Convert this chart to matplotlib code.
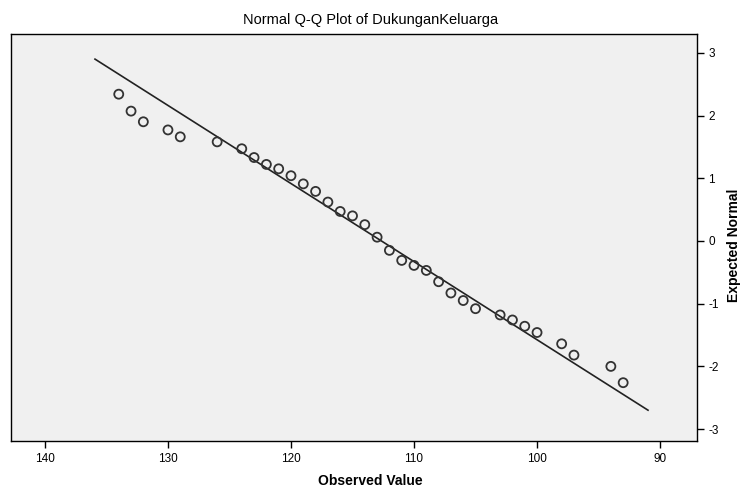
import matplotlib.pyplot as plt
import numpy as np

observed = [134, 133, 132, 130, 129, 126, 124, 123, 122, 121, 120, 119, 118,
            117, 116, 115, 114, 113, 112, 111, 110, 109, 108, 107, 106, 105,
            103, 102, 101, 100, 98, 97, 94, 93]
expected = [2.34, 2.07, 1.90, 1.77, 1.66, 1.58, 1.47, 1.33, 1.22, 1.15, 1.04,
            0.91, 0.79, 0.62, 0.47, 0.40, 0.26, 0.06, -0.15, -0.31, -0.39,
            -0.47, -0.65, -0.83, -0.95, -1.08, -1.18, -1.26, -1.36, -1.46,
            -1.64, -1.82, -2.00, -2.26]

# reference line parameters
line_mean = 112.65
line_sd = 8.03
line_range = [90.98, 135.93]

x_ticks = [140, 130, 120, 110, 100, 90]
y_ticks = [3, 2, 1, 0, -1, -2, -3]

plt.rcParams['font.family'] = ['Liberation Sans', 'DejaVu Sans']
plt.rcParams['axes.unicode_minus'] = False

fig = plt.figure(figsize=(7.41, 4.91), dpi=100)
ax = fig.add_axes([0.0148, 0.1018, 0.9258, 0.829])
ax.set_facecolor('#f0f0f0')

line_x = np.array(line_range)
line_y = (line_x - line_mean) / line_sd
ax.plot(line_x, line_y, color='#222222', lw=1.2, zorder=2)

ax.scatter(observed, expected, s=42, facecolors='none', edgecolors='#333333',
           linewidths=1.3, zorder=3)

ax.set_xlim(142.76, 87.0)
ax.set_ylim(-3.19, 3.3)
ax.set_xticks(x_ticks)
ax.set_yticks(y_ticks)
ax.yaxis.tick_right()
ax.tick_params(axis='both', direction='out', length=5, width=1, labelsize=8.5,
               color='black')
ax.tick_params(axis='y', pad=3)

for spine in ax.spines.values():
    spine.set_color('black')
    spine.set_linewidth(1)

fig.text(0.5, 0.96, 'Normal Q-Q Plot of DukunganKeluarga', ha='center',
         va='center', fontsize=10.5)
fig.text(0.5, 0.02, 'Observed Value', ha='center', va='center',
         fontsize=10, fontweight='bold')
fig.text(0.99, 0.5, 'Expected Normal', ha='center', va='center',
         rotation=90, fontsize=10, fontweight='bold')

fig.savefig('out.png', dpi=100)
